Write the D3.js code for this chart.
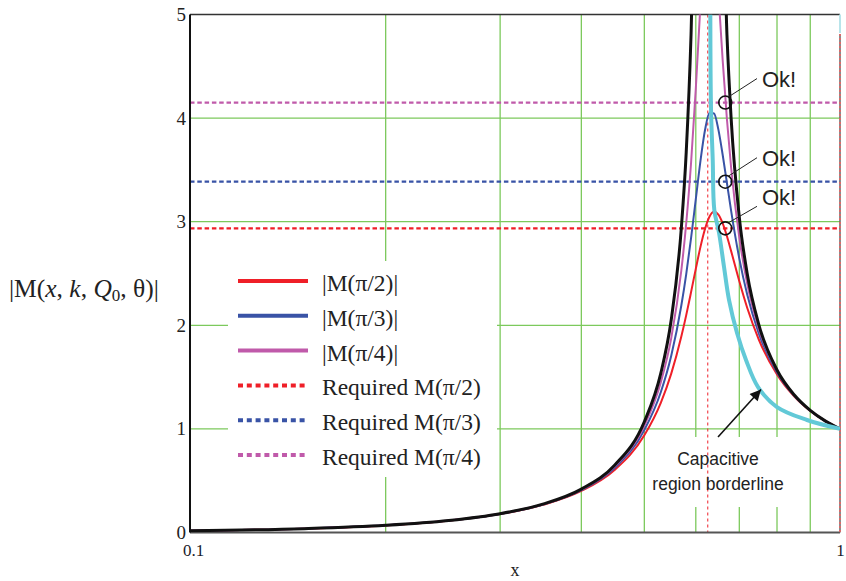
<!DOCTYPE html>
<html>
<head>
<meta charset="utf-8">
<script src="https://cdn.jsdelivr.net/npm/d3@7/dist/d3.min.js"></script>
<style>
  html, body { margin: 0; padding: 0; background: #fff; }
  svg { display: block; }
</style>
</head>
<body>
<svg id="chart" width="846" height="581"></svg>
<script>
// Normalised frequency samples for the loaded gain curves
const freqX = [0.1, 0.15, 0.2, 0.25, 0.3, 0.35, 0.4, 0.45, 0.5, 0.53, 0.55, 0.57, 0.58, 0.59, 0.6, 0.61, 0.62, 0.63, 0.64, 0.65, 0.66, 0.67, 0.68, 0.7, 0.72, 0.75, 0.8, 0.85, 0.9, 0.95, 1.0];
const gainHalfPi = [0.0159, 0.0369, 0.0686, 0.1140, 0.1780, 0.2688, 0.4014, 0.6042, 0.9378, 1.2512, 1.5335, 1.8915, 2.098, 2.320, 2.545, 2.757, 2.932, 3.051, 3.096, 3.068, 2.983, 2.859, 2.716, 2.425, 2.167, 1.863, 1.5255, 1.3149, 1.174, 1.0742, 1.0];
const gainThirdPi = [0.0159, 0.0369, 0.0688, 0.1146, 0.1793, 0.2720, 0.4088, 0.6227, 0.9888, 1.3542, 1.7062, 2.191, 2.495, 2.842, 3.217, 3.587, 3.887, 4.052, 4.045, 3.889, 3.644, 3.373, 3.104, 2.644, 2.294, 1.922, 1.544, 1.321, 1.1759, 1.0745, 1.0];
const gainQuarterPi = [0.0159, 0.0370, 0.0690, 0.1150, 0.1803, 0.2744, 0.4145, 0.6372, 1.0317, 1.4476, 1.8764, 2.529, 2.985, 3.567, 4.283, 5.10, 5.80, 6.09, 5.81, 5.21, 4.555, 3.987, 3.521, 2.847, 2.40, 1.968, 1.558, 1.3256, 1.1772, 1.0747, 1.0];

// No-load envelope (black)
const envX = [0.1, 0.15, 0.2, 0.25, 0.3, 0.35, 0.4, 0.45, 0.5, 0.53, 0.55, 0.57, 0.58, 0.59, 0.595, 0.665, 0.67, 0.68, 0.7, 0.72, 0.75, 0.8, 0.85, 0.9, 0.95, 1.0];
const envGain = [0.0159, 0.0370, 0.0691, 0.1153, 0.1811, 0.2762, 0.4191, 0.6493, 1.0695, 1.536, 2.053, 2.939, 3.671, 4.81, 5.65, 5.36, 4.805, 3.998, 3.042, 2.495, 2.007, 1.569, 1.329, 1.1783, 1.0749, 1.0];

// Capacitive region borderline (cyan)
const borderX = [0.6317, 0.6333, 0.6371, 0.6407, 0.6515, 0.6631, 0.6750, 0.6944, 0.7168, 0.7480, 0.8000, 0.8898, 1.0];
const borderGain = [5.0, 4.078, 3.596, 3.113, 2.891, 2.563, 2.244, 1.926, 1.665, 1.404, 1.211, 1.086, 1.0];

// Required gains and the operating point marked "Ok!"
const requiredGain = [2.936, 3.386, 4.15];
const operatingX = 0.666;
const resonanceX = 0.626;

const yTicks = [0, 1, 2, 3, 4, 5];
const xTicks = [0.1, 1];
const xGrid = [0.2, 0.3, 0.4, 0.5, 0.6, 0.7, 0.8, 0.9];
const yGrid = [1, 2, 3, 4];

const legendLabels = ["|M(π/2)|", "|M(π/3)|", "|M(π/4)|", "Required M(π/2)", "Required M(π/3)", "Required M(π/4)"];

const C = {
  red: "#ef1f28",
  blue: "#3953a6",
  magenta: "#c05aaa",
  black: "#111111",
  cyan: "#62c9d7",
  grid: "#7cc95c"
};
const serif = "'Liberation Serif', 'Times New Roman', serif";
const sans = "'Liberation Sans', Arial, sans-serif";

const svg = d3.select("#chart");
const x = d3.scaleLog().domain([0.1, 1]).range([190, 840]);
const y = d3.scaleLinear().domain([0, 5]).range([532.5, 14.5]);

svg.append("defs").append("clipPath").attr("id", "plotClip")
  .append("rect").attr("x", 190).attr("y", 14.5).attr("width", 650).attr("height", 518);

// grid
const grid = svg.append("g");
grid.selectAll("line.v").data(xGrid).join("line")
  .attr("x1", d => x(d)).attr("x2", d => x(d))
  .attr("y1", y(5)).attr("y2", y(0))
  .attr("stroke", C.grid).attr("stroke-width", 1.3);
grid.selectAll("line.h").data(yGrid).join("line")
  .attr("x1", x(0.1)).attr("x2", x(1))
  .attr("y1", d => y(d)).attr("y2", d => y(d))
  .attr("stroke", C.grid).attr("stroke-width", 1.3);

// white panels behind legend and annotation text
svg.append("rect").attr("x", 228).attr("y", 261).attr("width", 269).attr("height", 216).attr("fill", "#fff");
svg.append("rect").attr("x", 650).attr("y", 437).attr("width", 140).attr("height", 70).attr("fill", "#fff");

// resonance marker
svg.append("line")
  .attr("x1", x(resonanceX)).attr("x2", x(resonanceX))
  .attr("y1", y(5)).attr("y2", y(0))
  .attr("stroke", C.red).attr("stroke-width", 1).attr("stroke-dasharray", "3,3");

// required gain levels
const reqColors = [C.red, C.blue, C.magenta];
svg.selectAll("line.req").data(requiredGain).join("line")
  .attr("x1", x(0.1)).attr("x2", x(1))
  .attr("y1", d => y(d)).attr("y2", d => y(d))
  .attr("stroke", (d, i) => reqColors[i])
  .attr("stroke-width", 2.2)
  .attr("stroke-dasharray", "4.5,2.8");

// frame
svg.append("line").attr("x1", 190).attr("x2", 840).attr("y1", y(5)).attr("y2", y(5))
  .attr("stroke", "#333").attr("stroke-width", 1.5);
svg.append("line").attr("x1", 190).attr("x2", 840).attr("y1", y(0)).attr("y2", y(0))
  .attr("stroke", "#555").attr("stroke-width", 2);
svg.append("line").attr("x1", 840).attr("x2", 840).attr("y1", 34).attr("y2", y(0))
  .attr("stroke", "#666").attr("stroke-width", 1.5);
svg.append("line").attr("x1", 840).attr("x2", 840).attr("y1", 34).attr("y2", y(0))
  .attr("stroke", "#f06060").attr("stroke-width", 1.5).attr("stroke-dasharray", "2,2");
svg.append("line").attr("x1", 840).attr("x2", 840).attr("y1", y(5)).attr("y2", 33)
  .attr("stroke", "#b8e4ea").attr("stroke-width", 2);

// curves
const line = d3.line().x(d => x(d[0])).y(d => y(d[1])).curve(d3.curveMonotoneX);
const curves = svg.append("g").attr("clip-path", "url(#plotClip)");
const series = [
  { xs: freqX, ys: gainHalfPi, color: C.red, w: 2 },
  { xs: freqX, ys: gainThirdPi, color: C.blue, w: 2 },
  { xs: freqX, ys: gainQuarterPi, color: C.magenta, w: 2 },
  { xs: envX, ys: envGain, color: C.black, w: 3 },
];
series.forEach(s => {
  curves.append("path")
    .datum(d3.zip(s.xs, s.ys))
    .attr("d", line)
    .attr("fill", "none")
    .attr("stroke", s.color)
    .attr("stroke-width", s.w)
    .attr("stroke-linejoin", "round");
});
const borderLine = d3.line().x(d => x(d[0])).y(d => y(d[1])).curve(d3.curveCatmullRom.alpha(0.5));
curves.append("path")
  .datum(d3.zip(borderX, borderGain))
  .attr("d", borderLine)
  .attr("fill", "none")
  .attr("stroke", C.cyan)
  .attr("stroke-width", 4);

// left axis line
svg.append("line").attr("x1", 190).attr("x2", 190).attr("y1", y(5)).attr("y2", y(0))
  .attr("stroke", "#111").attr("stroke-width", 2);

// axes labels
const yAxis = svg.append("g").attr("transform", "translate(190,0)")
  .call(d3.axisLeft(y).tickValues(yTicks).tickSize(0).tickPadding(4).tickFormat(d3.format("d")));
yAxis.select(".domain").remove();
yAxis.selectAll("text").attr("font-family", serif).attr("font-size", 19).attr("fill", "#222");

const xAxis = svg.append("g").attr("transform", `translate(0,${y(0)})`)
  .call(d3.axisBottom(x).tickValues(xTicks).tickSize(0).tickPadding(11).tickFormat(d => d === 1 ? "1" : "0.1"));
xAxis.select(".domain").remove();
xAxis.selectAll("text").attr("font-family", serif).attr("font-size", 17).attr("fill", "#1a1a2a")
  .attr("dx", d => d === 1 ? 0 : 3);

// axis titles
const yTitle = svg.append("text").attr("x", 9).attr("y", 297)
  .attr("font-family", serif).attr("font-size", 25.5).attr("fill", "#222");
yTitle.append("tspan").text("|M(");
yTitle.append("tspan").attr("font-style", "italic").text("x");
yTitle.append("tspan").text(", ");
yTitle.append("tspan").attr("font-style", "italic").text("k");
yTitle.append("tspan").text(", ");
yTitle.append("tspan").attr("font-style", "italic").text("Q");
yTitle.append("tspan").attr("font-size", 17).attr("dy", 4).text("0");
yTitle.append("tspan").attr("dy", -4).text(", θ)|");

svg.append("text").attr("x", 515).attr("y", 576).attr("text-anchor", "middle")
  .attr("font-family", serif).attr("font-size", 18).attr("fill", "#222").text("x");

// legend
const legendColors = [C.red, C.blue, C.magenta, C.red, C.blue, C.magenta];
const legend = svg.append("g");
legendLabels.forEach((lab, i) => {
  const ly = 281 + i * 34.8;
  legend.append("line")
    .attr("x1", 238).attr("x2", 308).attr("y1", ly).attr("y2", ly)
    .attr("stroke", legendColors[i]).attr("stroke-width", 4)
    .attr("stroke-dasharray", i < 3 ? null : "5,3.8");
  legend.append("text").attr("x", 322).attr("y", ly + 10)
    .attr("font-family", serif).attr("font-size", 23.5).attr("fill", "#222")
    .text(lab);
});

// "Ok!" annotations
const okOffsets = [
  { lx: 757, ly: -22, ty: -23 },
  { lx: 757, ly: -24, ty: -16 },
  { lx: 757, ly: -24, ty: -16 }
];
requiredGain.forEach((g, i) => {
  const cx = x(operatingX), cy = y(g);
  const o = okOffsets[i];
  svg.append("circle").attr("cx", cx).attr("cy", cy).attr("r", 6.5)
    .attr("fill", "none").attr("stroke", "#111").attr("stroke-width", 1.6);
  svg.append("line").attr("x1", cx + 3).attr("y1", cy - 5.5).attr("x2", o.lx).attr("y2", cy + o.ly)
    .attr("stroke", "#222").attr("stroke-width", 1);
  svg.append("text").attr("x", 762).attr("y", cy + o.ty)
    .attr("font-family", sans).attr("font-size", 22).attr("fill", "#222").text("Ok!");
});

// borderline call-out
svg.append("defs").append("marker").attr("id", "arrowHead")
  .attr("viewBox", "0 0 10 10").attr("refX", 10).attr("refY", 5)
  .attr("markerWidth", 14).attr("markerHeight", 11).attr("markerUnits", "userSpaceOnUse")
  .attr("orient", "auto")
  .append("path").attr("d", "M0,0 L10,5 L0,10 Z").attr("fill", "#111");
svg.append("line").attr("x1", 718).attr("y1", 437).attr("x2", 761).attr("y2", 389.5)
  .attr("stroke", "#111").attr("stroke-width", 1.6).attr("marker-end", "url(#arrowHead)");
svg.append("text").attr("x", 718).attr("y", 465).attr("text-anchor", "middle")
  .attr("font-family", sans).attr("font-size", 17.5).attr("fill", "#222").text("Capacitive");
svg.append("text").attr("x", 718).attr("y", 490).attr("text-anchor", "middle")
  .attr("font-family", sans).attr("font-size", 17.5).attr("fill", "#222").text("region borderline");
</script>
</body>
</html>
